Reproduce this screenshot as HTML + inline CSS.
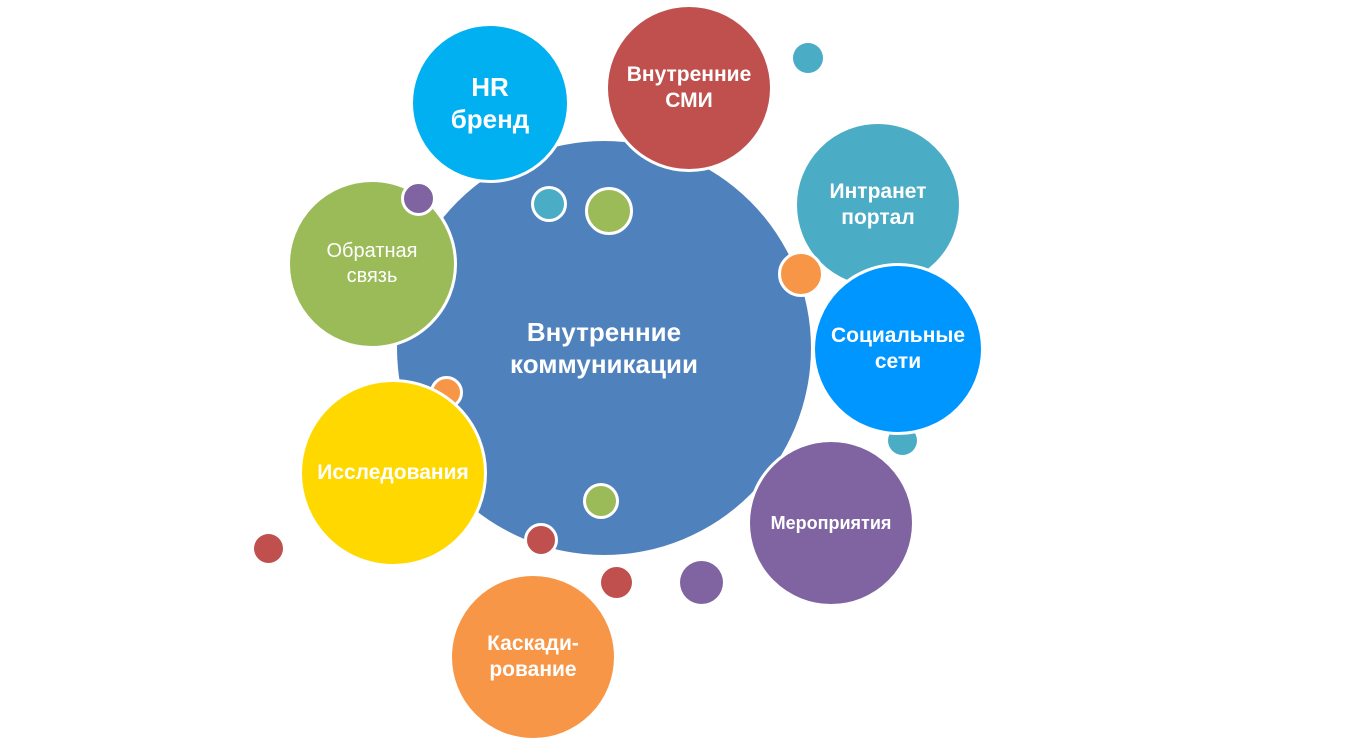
<!DOCTYPE html>
<html><head><meta charset="utf-8"><style>
body{margin:0;background:#fff;width:1347px;height:742px;overflow:hidden;position:relative;font-family:"Liberation Sans",sans-serif}
.c{position:absolute;border-radius:50%;display:flex;align-items:center;justify-content:center;text-align:center;color:#fff;font-weight:bold;box-sizing:border-box;border:3px solid #fff;line-height:1.25}
</style></head><body>
<div class="c" style="left:397px;top:141px;width:414px;height:414px;background:#4f81bd;font-size:26px;border:none">Внутренние<br>коммуникации</div>
<div class="c" style="left:410px;top:23px;width:160px;height:160px;background:#00b0f0;font-size:26px">HR<br>бренд</div>
<div class="c" style="left:605px;top:4px;width:168px;height:168px;background:#c0504d;font-size:21px">Внутренние<br>СМИ</div>
<div class="c" style="left:793px;top:43px;width:30px;height:30px;background:#4bacc6;border:none"></div>
<div class="c" style="left:794px;top:121px;width:168px;height:168px;background:#4bacc6;font-size:21px">Интранет<br>портал</div>
<div class="c" style="left:778px;top:251px;width:46px;height:46px;background:#f79646"></div>
<div class="c" style="left:888px;top:426px;width:29px;height:29px;background:#4bacc6;border:none"></div>
<div class="c" style="left:812px;top:263px;width:172px;height:172px;background:#0096ff;font-size:21px">Социальные<br>сети</div>
<div class="c" style="left:747px;top:439px;width:168px;height:168px;background:#8064a2;font-size:18px">Мероприятия</div>
<div class="c" style="left:680px;top:561px;width:43px;height:43px;background:#8064a2;border:none"></div>
<div class="c" style="left:601px;top:567px;width:31px;height:31px;background:#c0504d;border:none"></div>
<div class="c" style="left:449px;top:573px;width:168px;height:168px;background:#f79646;font-size:21px">Каскади-<br>рование</div>
<div class="c" style="left:524px;top:523px;width:34px;height:34px;background:#c0504d"></div>
<div class="c" style="left:583px;top:483px;width:36px;height:36px;background:#9bbb59"></div>
<div class="c" style="left:430px;top:376px;width:33px;height:33px;background:#f79646"></div>
<div class="c" style="left:299px;top:379px;width:188px;height:188px;background:#ffd800;font-size:21px">Исследования</div>
<div class="c" style="left:254px;top:534px;width:29px;height:29px;background:#c0504d;border:none"></div>
<div class="c" style="left:287px;top:179px;width:170px;height:170px;background:#9bbb59;font-size:20px;font-weight:normal">Обратная<br>связь</div>
<div class="c" style="left:401px;top:181px;width:35px;height:35px;background:#8064a2"></div>
<div class="c" style="left:531px;top:186px;width:36px;height:36px;background:#4bacc6"></div>
<div class="c" style="left:585px;top:187px;width:48px;height:48px;background:#9bbb59"></div>
</body></html>
